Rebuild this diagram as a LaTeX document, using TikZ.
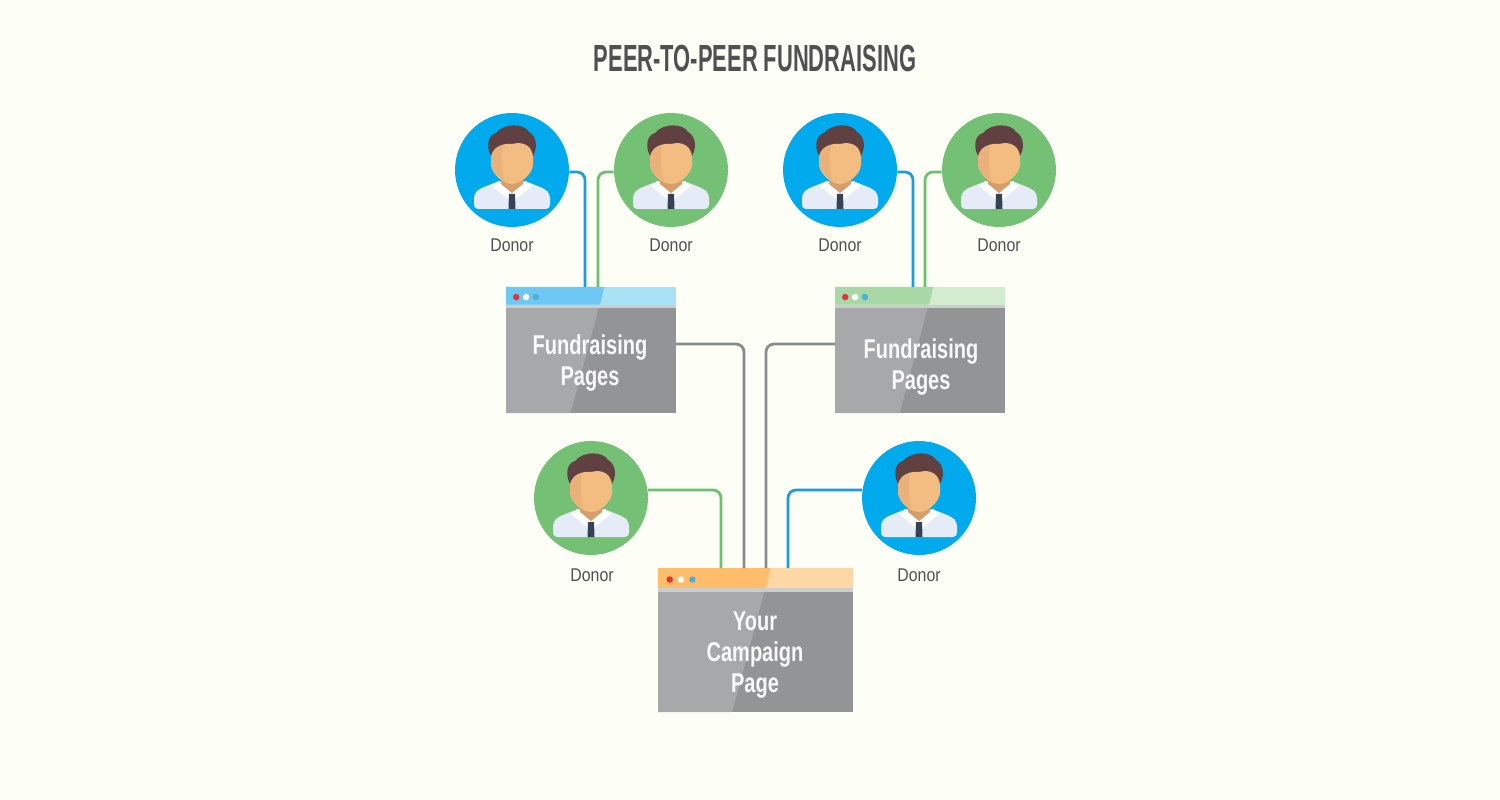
\documentclass[tikz,border=0pt]{standalone}
\usepackage{fontspec}
\usetikzlibrary{positioning, calc}
\newfontfamily\titlefont[FakeStretch=0.58]{Liberation Sans}
\newfontfamily\pagefont[FakeStretch=0.735]{Liberation Sans}
\newfontfamily\donorfont[FakeStretch=0.86]{Liberation Sans}
\definecolor{bgcream}{RGB}{253,255,246}
\definecolor{myblue}{RGB}{0,170,236}
\definecolor{mygreen}{RGB}{116,192,116}
\definecolor{wireblue}{RGB}{28,155,224}
\definecolor{wiregreen}{RGB}{108,192,112}
\definecolor{wiregray}{RGB}{138,139,141}
\definecolor{mytext}{RGB}{80,80,82}
\definecolor{hair}{RGB}{96,64,64}
\definecolor{skin}{RGB}{243,189,130}
\definecolor{skindark}{RGB}{234,178,122}
\definecolor{neck}{RGB}{214,158,106}
\definecolor{shirt}{RGB}{230,236,247}
\definecolor{tie}{RGB}{56,66,86}
\definecolor{bodylight}{RGB}{167,168,170}
\definecolor{bodydark}{RGB}{147,148,150}
\definecolor{sepgray}{RGB}{205,205,205}
\definecolor{hdrblue}{RGB}{109,200,243}
\definecolor{hdrbluel}{RGB}{169,225,247}
\definecolor{hdrgreen}{RGB}{168,216,165}
\definecolor{hdrgreenl}{RGB}{211,236,208}
\definecolor{hdrorange}{RGB}{253,189,107}
\definecolor{hdrorangel}{RGB}{253,216,165}
\definecolor{dotred}{RGB}{232,48,58}
\definecolor{dotblue}{RGB}{80,175,215}
\tikzset{
  donor/.style={circle, minimum size=2.28cm, inner sep=0pt},
  bluedonor/.style={donor, fill=myblue},
  greendonor/.style={donor, fill=mygreen},
  donorlabel/.style={font=\donorfont\fontsize{10.5}{12}\selectfont, text=mytext, inner sep=0pt},
  pagelabel/.style={font=\pagefont\bfseries\fontsize{15.5}{17.6}\selectfont, text=white!95!gray, align=center, inner sep=0pt},
  bluewire/.style={rounded corners=0.16cm, line width=0.055cm, color=wireblue},
  greenwire/.style={rounded corners=0.16cm, line width=0.055cm, color=wiregreen},
  graywire/.style={rounded corners=0.16cm, line width=0.055cm, color=wiregray},
  winbox/.style n args={4}{rectangle, inner sep=0pt, outer sep=0pt,
    minimum width=#1*0.02cm, minimum height=#2*0.02cm, fill=bodydark,
    path picture={
      \begin{scope}[x=#1*0.02cm, y=-#2*0.02cm]
        \fill[#4] (-0.5,-0.5) rectangle (0.5,-0.36);
        \fill[#3] (-0.5,-0.5) -- (0.078,-0.5) -- (0.053,-0.36) -- (-0.5,-0.36) -- cycle;
        \fill[sepgray] (-0.5,-0.36) rectangle (0.5,-0.332);
        \fill[bodylight] (-0.5,-0.332) -- (0.045,-0.332) -- (-0.12,0.5) -- (-0.5,0.5) -- cycle;
        \fill[dotred] (-0.44,-0.42) circle[radius=0.065cm];
        \fill[white] (-0.382,-0.42) circle[radius=0.065cm];
        \fill[dotblue] (-0.324,-0.42) circle[radius=0.065cm];
      \end{scope}
    }},
  pics/person/.style={code={
    \fill[shirt, rounded corners=0.08cm] (-38,39) -- (-38,24) -- (-33,19) -- (-13,11) -- (13,11) -- (33,19) -- (38,24) -- (38,39) -- cycle;
    \fill[white] (-14,11) -- (0,22) -- (-4,29) -- (-20,16) -- cycle;
    \fill[white] (14,11) -- (0,22) -- (4,29) -- (20,16) -- cycle;
    \fill[neck] (-11,6) -- (11,6) -- (11,14) -- (0,23) -- (-11,14) -- cycle;
    \fill[tie] (-3,24) -- (3,24) -- (3.5,39) -- (-3.5,39) -- cycle;
    \fill[hair] (-18,-10) .. controls (-27,-20) and (-25,-35) .. (-16,-37) .. controls (-8,-47) and (12,-47) .. (17,-38) .. controls (25,-34) and (27,-20) .. (18,-10) -- cycle;
    \fill[skin] (-21,-13) .. controls (-19,-24) and (-8,-27) .. (0,-26) .. controls (12,-29) and (20,-24) .. (21,-13) -- (21,-5) .. controls (20,5) and (8,14) .. (0,14) .. controls (-8,14) and (-20,5) .. (-21,-5) -- cycle;
    \fill[skindark] (-21,-13) .. controls (-20,-19) and (-15,-24) .. (-9,-25) .. controls (-11,-10) and (-11,0) .. (-7,11) .. controls (-14,7) and (-20,2) .. (-21,-5) -- cycle;
  }}
}
\begin{document}
\begin{tikzpicture}[x=0.02cm, y=-0.02cm]
  \useasboundingbox (0,0) rectangle (1500,800);
  \fill[bgcream] (0,0) rectangle (1500,800);

  \node[font=\titlefont\bfseries\fontsize{21.5}{24}\selectfont, text=mytext, inner sep=0pt] (title) at (755,59) {PEER-TO-PEER FUNDRAISING};

  % Pages
  \node[winbox={170}{126}{hdrblue}{hdrbluel}] (page1) at (591,350) {};
  \node[winbox={170}{126}{hdrgreen}{hdrgreenl}] (page2) at (920,350) {};
  \node[winbox={195}{144}{hdrorange}{hdrorangel}] (camp) at (755.5,640) {};
  \node[pagelabel] (page1txt) at (590,363) {Fundraising\\Pages};
  \node[pagelabel] (page2txt) at (921,367) {Fundraising\\Pages};
  \node[pagelabel] (camptxt) at (755,655) {Your\\Campaign\\Page};

  % Donors
  \node[bluedonor] (d1) at (512,170) {};
  \node[greendonor] (d2) at (671,170) {};
  \node[bluedonor] (d3) at (840,170) {};
  \node[greendonor] (d4) at (999,170) {};
  \node[greendonor] (d5) at (591,498) {};
  \node[bluedonor] (d6) at (919,498) {};
  \pic at (d1) {person};
  \pic at (d2) {person};
  \pic at (d3) {person};
  \pic at (d4) {person};
  \pic at (d5) {person};
  \pic at (d6) {person};
  \node[donorlabel] (d1txt) at (512,245) {Donor};
  \node[donorlabel] (d2txt) at (671,245) {Donor};
  \node[donorlabel] (d3txt) at (840,245) {Donor};
  \node[donorlabel] (d4txt) at (999,245) {Donor};
  \node[donorlabel] (d5txt) at (592,575) {Donor};
  \node[donorlabel] (d6txt) at (919,575) {Donor};

  % Wires
  \draw[bluewire] (d1.-2) -| ([xshift=-0.12cm]page1.north);
  \draw[greenwire] (d2.182) -| ([xshift=0.14cm]page1.north);
  \draw[bluewire] (d3.-2) -| ([xshift=-0.14cm]page2.north);
  \draw[greenwire] (d4.182) -| ([xshift=0.1cm]page2.north);
  \draw[greenwire] (d5.8) -| ([xshift=-0.69cm]camp.north);
  \draw[bluewire] (d6.172) -| ([xshift=0.65cm]camp.north);
  \draw[graywire] ([yshift=0.12cm]page1.east) -| ([xshift=-0.23cm]camp.north);
  \draw[graywire] ([yshift=0.12cm]page2.west) -| ([xshift=0.21cm]camp.north);
\end{tikzpicture}
\end{document}
